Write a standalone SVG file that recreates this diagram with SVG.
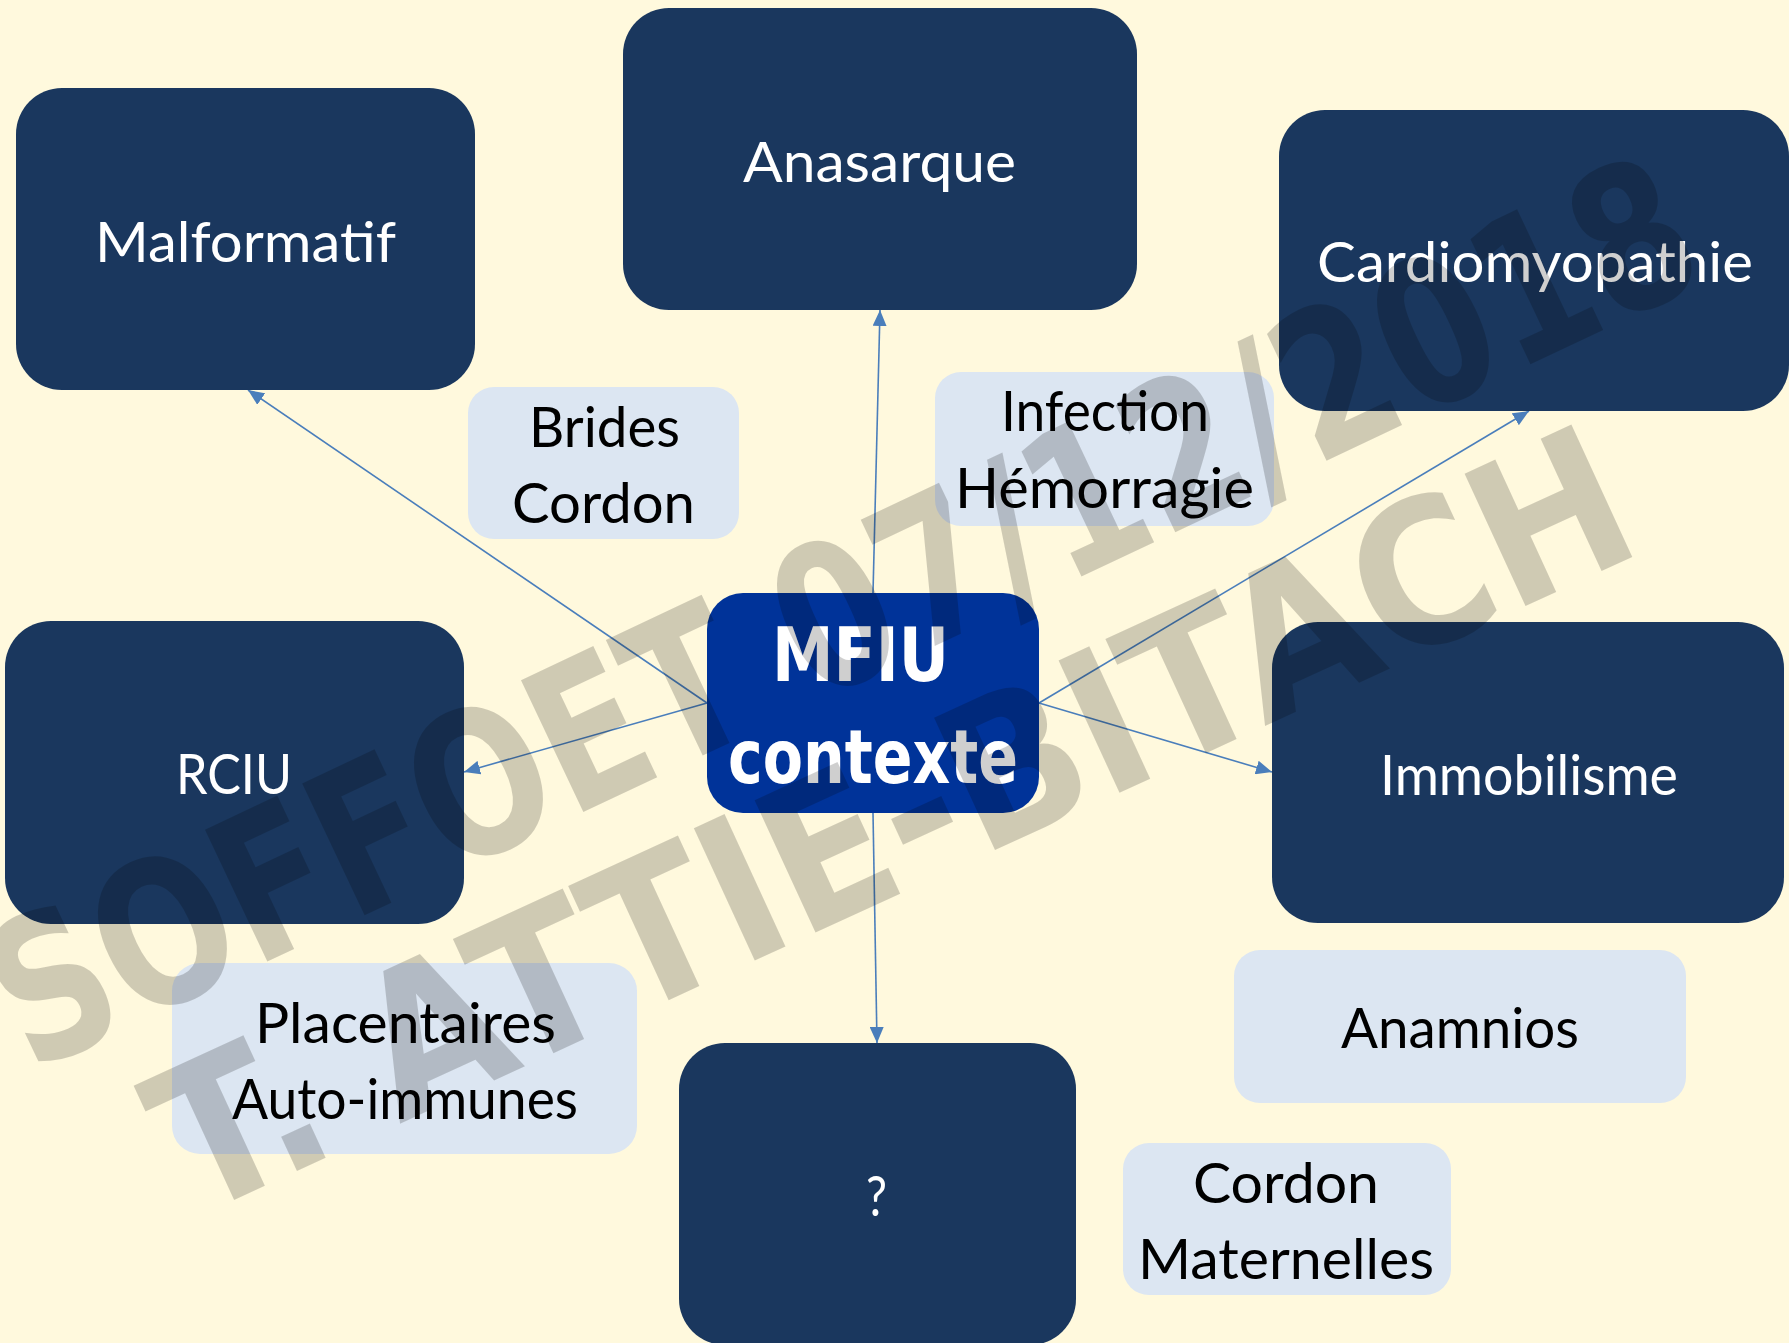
<svg xmlns="http://www.w3.org/2000/svg" width="1789" height="1343" viewBox="0 0 1789 1343">
<defs>
<style>
.node{fill:#1A375E}
.center{fill:#003399}
.label{fill:#DCE6F2}
.nt{font-family:Lato,"Open Sans","DejaVu Sans",sans-serif;font-size:56px;fill:#FFFFFF;text-anchor:middle}
.lt{font-family:Lato,"Open Sans","DejaVu Sans",sans-serif;font-size:56px;fill:#000000;text-anchor:middle}
.ct{font-family:"DejaVu Sans",Verdana,sans-serif;font-weight:bold;font-size:74px;fill:#FFFFFF;text-anchor:middle}
.conn{stroke:#4A7EBB;stroke-width:1.6;fill:none;marker-end:url(#arr)}
.wm{font-family:"DejaVu Sans",sans-serif;font-weight:bold;font-size:200px;fill:#000000;fill-opacity:0.19;text-anchor:middle}
</style>
<marker id="arr" viewBox="0 0 16 14" refX="16" refY="7" markerWidth="16" markerHeight="14" markerUnits="userSpaceOnUse" orient="auto">
<path d="M0,0 L16,7 L0,14 Z" fill="#4A7EBB"/>
</marker>
</defs>
<rect x="0" y="0" width="1789" height="1343" fill="#FFF9DD"/>

<g id="connectors">
<line class="conn" x1="873" y1="593" x2="880" y2="310"/>
<line class="conn" x1="873" y1="813" x2="877" y2="1043"/>
<line class="conn" x1="707" y1="703" x2="248" y2="390"/>
<line class="conn" x1="707" y1="703" x2="464" y2="772"/>
<line class="conn" x1="1039" y1="703" x2="1529" y2="411"/>
<line class="conn" x1="1039" y1="703" x2="1272" y2="772"/>
</g>

<g id="node-malformatif">
<rect class="node" x="16" y="88" width="459" height="302" rx="46" ry="46"/>
<text class="nt" x="245.5" y="262" textLength="301" lengthAdjust="spacingAndGlyphs">Malformatif</text>
</g>
<g id="node-anasarque">
<rect class="node" x="623" y="8" width="514" height="302" rx="46" ry="46"/>
<text class="nt" x="879.5" y="182" textLength="273" lengthAdjust="spacingAndGlyphs">Anasarque</text>
</g>
<g id="node-cardiomyopathie">
<rect class="node" x="1279" y="110" width="510" height="301" rx="46" ry="46"/>
<text class="nt" x="1535" y="282" textLength="436" lengthAdjust="spacingAndGlyphs">Cardiomyopathie</text>
</g>
<g id="node-rciu">
<rect class="node" x="5" y="621" width="459" height="303" rx="46" ry="46"/>
<text class="nt" x="234" y="794" textLength="116" lengthAdjust="spacingAndGlyphs">RCIU</text>
</g>
<g id="node-immobilisme">
<rect class="node" x="1272" y="622" width="512" height="301" rx="46" ry="46"/>
<text class="nt" x="1529" y="795" textLength="298" lengthAdjust="spacingAndGlyphs">Immobilisme</text>
</g>
<g id="node-inconnu">
<rect class="node" x="679" y="1043" width="397" height="302" rx="46" ry="46"/>
<text class="nt" x="876.5" y="1216" textLength="21" lengthAdjust="spacingAndGlyphs">?</text>
</g>
<g id="node-mfiu">
<rect class="center" x="707" y="593" width="332" height="220" rx="36" ry="36"/>
<text class="ct" x="860.5" y="681" textLength="177" lengthAdjust="spacingAndGlyphs">MFIU</text>
<text class="ct" x="873" y="783" textLength="290" lengthAdjust="spacingAndGlyphs">contexte</text>
</g>

<g id="label-brides">
<rect class="label" x="468" y="387" width="271" height="152" rx="26" ry="26"/>
<text class="lt" x="604.5" y="447" textLength="151" lengthAdjust="spacingAndGlyphs">Brides</text>
<text class="lt" x="603.5" y="523" textLength="183" lengthAdjust="spacingAndGlyphs">Cordon</text>
</g>
<g id="label-infection">
<rect class="label" x="935" y="372" width="339" height="154" rx="26" ry="26"/>
<text class="lt" x="1105" y="431" textLength="208" lengthAdjust="spacingAndGlyphs">Infection</text>
<text class="lt" x="1104.5" y="508" textLength="299" lengthAdjust="spacingAndGlyphs">Hémorragie</text>
</g>
<g id="label-placentaires">
<rect class="label" x="172" y="963" width="465" height="191" rx="28" ry="28"/>
<text class="lt" x="405.5" y="1043" textLength="301" lengthAdjust="spacingAndGlyphs">Placentaires</text>
<text class="lt" x="405" y="1119" textLength="346" lengthAdjust="spacingAndGlyphs">Auto-immunes</text>
</g>
<g id="label-anamnios">
<rect class="label" x="1234" y="950" width="452" height="153" rx="26" ry="26"/>
<text class="lt" x="1460" y="1048" textLength="238" lengthAdjust="spacingAndGlyphs">Anamnios</text>
</g>
<g id="label-cordon-maternelles">
<rect class="label" x="1123" y="1143" width="328" height="152" rx="26" ry="26"/>
<text class="lt" x="1286" y="1203" textLength="186" lengthAdjust="spacingAndGlyphs">Cordon</text>
<text class="lt" x="1286" y="1279" textLength="296" lengthAdjust="spacingAndGlyphs">Maternelles</text>
</g>

<g id="watermark">
<text class="wm" transform="translate(840 610) rotate(-25.3)" x="0" y="73" textLength="1860" lengthAdjust="spacingAndGlyphs">SOFFOET 07/12/2018</text>
<text class="wm" transform="translate(890 818) rotate(-24.7)" x="0" y="73" textLength="1600" lengthAdjust="spacingAndGlyphs">T. ATTIE-BITACH</text>
</g>
</svg>
